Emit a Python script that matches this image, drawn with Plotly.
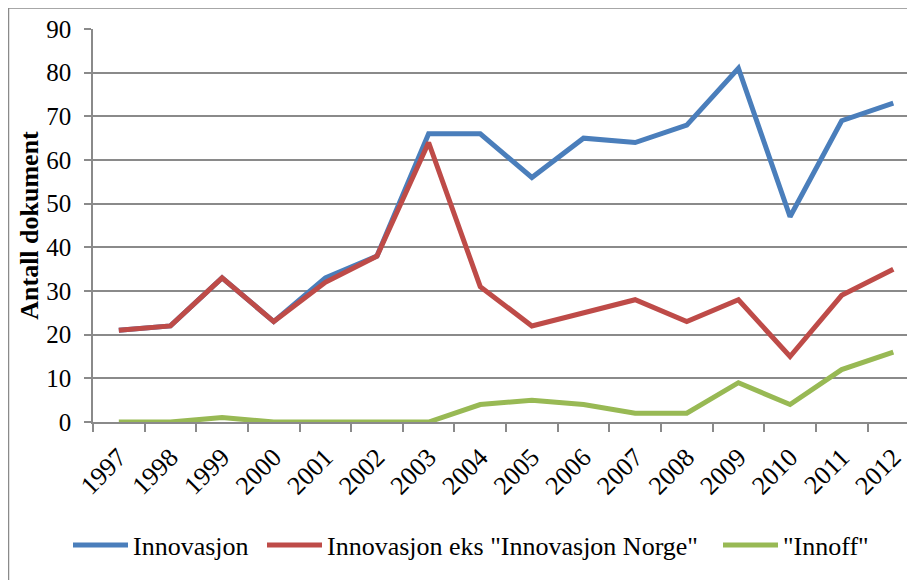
import plotly.graph_objects as go

years = [str(y) for y in range(1997, 2013)]
innovasjon = [21, 22, 33, 23, 33, 38, 66, 66, 56, 65, 64, 68, 81, 47, 69, 73]
innovasjon_eks = [21, 22, 33, 23, 32, 38, 64, 31, 22, 25, 28, 23, 28, 15, 29, 35]
innoff = [0, 0, 1, 0, 0, 0, 0, 4, 5, 4, 2, 2, 9, 4, 12, 16]
series_names = ["Innovasjon", 'Innovasjon eks "Innovasjon Norge"', '"Innoff"']
colors = ["#4A7EBB", "#BE4B48", "#98B954"]
y_ticks = list(range(0, 100, 10))

FONT = "Liberation Serif"
OFF = 8  # page body margin offset
W, H = 915 - OFF, 580 - OFF
L, T, B = 93 - OFF, 29 - OFF, 158
PW = W - L
PH = H - T - B

def px_x(px):
    return (px - OFF - L) / PW

def px_y(py):
    return (H - B - (py - OFF)) / PH

legend_ids = ["legend", "legend2", "legend3"]
legend_x = [68, 262, 718]

fig = go.Figure()
for name, vals, col, lid in zip(series_names, [innovasjon, innovasjon_eks, innoff], colors, legend_ids):
    fig.add_trace(go.Scatter(x=years, y=vals, mode="lines", name=name, legend=lid,
                             line=dict(color=col, width=5)))

grey = "#8A8A8A"
fig.add_shape(type="line", xref="paper", yref="paper",
              x0=px_x(8), x1=px_x(930), y0=px_y(8), y1=px_y(8),
              line=dict(color=grey, width=1.5))
fig.add_shape(type="line", xref="paper", yref="paper",
              x0=px_x(8.5), x1=px_x(8.5), y0=px_y(8), y1=px_y(600),
              line=dict(color=grey, width=1.5))

legend_common = dict(orientation="h", xanchor="left", y=px_y(545), yanchor="middle",
                     itemwidth=55, font=dict(family=FONT, size=26, color="black"),
                     bgcolor="rgba(0,0,0,0)")

fig.update_layout(
    width=W, height=H,
    margin=dict(l=L, r=0, t=T, b=B),
    paper_bgcolor="white", plot_bgcolor="white",
    font=dict(family=FONT, size=25, color="black"),
    showlegend=True,
    legend=dict(x=px_x(legend_x[0]), **legend_common),
    legend2=dict(x=px_x(legend_x[1]), **legend_common),
    legend3=dict(x=px_x(legend_x[2]), **legend_common),
    xaxis=dict(type="category", categoryarray=years,
               range=[-0.5, 15.42],
               tickson="boundaries", ticks="outside", ticklen=8,
               tickcolor=grey, tickwidth=1.5,
               showline=True, linecolor=grey, linewidth=1.5,
               showgrid=False, tickangle=-45, ticklabelstandoff=8,
               tickfont=dict(family=FONT, size=26)),
    yaxis=dict(range=[0, 90], tickvals=y_ticks,
               ticks="outside", ticklen=7, tickcolor=grey, tickwidth=1.5,
               showline=True, linecolor=grey, linewidth=1.5,
               showgrid=True, gridcolor=grey, gridwidth=1.5,
               zeroline=False, ticklabelstandoff=8,
               tickfont=dict(family=FONT, size=25),
               title=dict(text="<b>Antall dokument</b>",
                          font=dict(family=FONT, size=26), standoff=0)),
)

fig.write_html("out.html")
